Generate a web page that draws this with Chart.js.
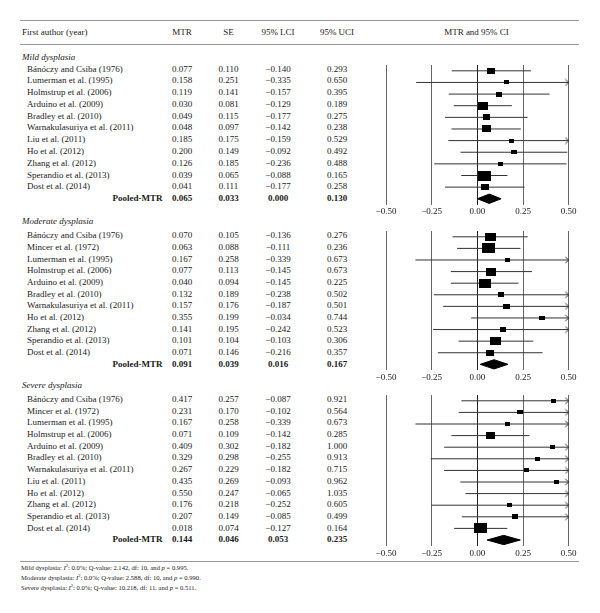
<!DOCTYPE html>
<html><head><meta charset="utf-8">
<script src="https://cdn.jsdelivr.net/npm/chart.js@4.4.1/dist/chart.umd.min.js"></script>
<style>
html,body{margin:0;padding:0;background:#fff;}
#wrap{position:relative;width:600px;height:613px;overflow:hidden;font-family:"Liberation Serif","Times New Roman",serif;color:#1a1a1a;}
.t{position:absolute;font-size:9px;line-height:12px;height:12px;white-space:nowrap;}
.c{transform:translateX(-50%);}
.b{font-weight:bold;}
.i{font-style:italic;}
.rule{position:absolute;height:0;border-top:1.4px solid #999;}
canvas{position:absolute;}
.note{position:absolute;font-size:6.6px;line-height:8px;height:8px;white-space:nowrap;left:21px;color:#222;}
.note sup{font-size:4.6px;vertical-align:3px;line-height:0;}
</style></head><body><div id="wrap"></div>
<script>
// ---------------- data ----------------
const mildAuthors = ["Bánóczy and Csiba (1976)","Lumerman et al. (1995)","Holmstrup et al. (2006)","Arduino et al. (2009)","Bradley et al. (2010)","Warnakulasuriya et al. (2011)","Liu et al. (2011)","Ho et al. (2012)","Zhang et al. (2012)","Sperandio et al. (2013)","Dost et al. (2014)"];
const mildMTR = [0.077,0.158,0.119,0.030,0.049,0.048,0.185,0.200,0.126,0.039,0.041];
const mildSE  = [0.110,0.251,0.141,0.081,0.115,0.097,0.175,0.149,0.185,0.065,0.111];
const mildLCI = [-0.140,-0.335,-0.157,-0.129,-0.177,-0.142,-0.159,-0.092,-0.236,-0.088,-0.177];
const mildUCI = [0.293,0.650,0.395,0.189,0.275,0.238,0.529,0.492,0.488,0.165,0.258];
const mildPooled = [0.065,0.033,0.000,0.130]; // MTR, SE, LCI, UCI

const modAuthors = ["Bánóczy and Csiba (1976)","Mincer et al. (1972)","Lumerman et al. (1995)","Holmstrup et al. (2006)","Arduino et al. (2009)","Bradley et al. (2010)","Warnakulasuriya et al. (2011)","Ho et al. (2012)","Zhang et al. (2012)","Sperandio et al. (2013)","Dost et al. (2014)"];
const modMTR = [0.070,0.063,0.167,0.077,0.040,0.132,0.157,0.355,0.141,0.101,0.071];
const modSE  = [0.105,0.088,0.258,0.113,0.094,0.189,0.176,0.199,0.195,0.104,0.146];
const modLCI = [-0.136,-0.111,-0.339,-0.145,-0.145,-0.238,-0.187,-0.034,-0.242,-0.103,-0.216];
const modUCI = [0.276,0.236,0.673,0.673,0.225,0.502,0.501,0.744,0.523,0.306,0.357];
// upper whisker ends as drawn in the plot (Holmstrup's drawn interval ends near 0.30)
const modUCIDrawn = [0.276,0.236,0.673,0.299,0.225,0.502,0.501,0.744,0.523,0.306,0.357];
const modPooled = [0.091,0.039,0.016,0.167];

const sevAuthors = ["Bánóczy and Csiba (1976)","Mincer et al. (1972)","Lumerman et al. (1995)","Holmstrup et al. (2006)","Arduino et al. (2009)","Bradley et al. (2010)","Warnakulasuriya et al. (2011)","Liu et al. (2011)","Ho et al. (2012)","Zhang et al. (2012)","Sperandio et al. (2013)","Dost et al. (2014)"];
const sevMTR = [0.417,0.231,0.167,0.071,0.409,0.329,0.267,0.435,0.550,0.176,0.207,0.018];
const sevSE  = [0.257,0.170,0.258,0.109,0.302,0.298,0.229,0.269,0.247,0.218,0.149,0.074];
const sevLCI = [-0.087,-0.102,-0.339,-0.142,-0.182,-0.255,-0.182,-0.093,-0.065,-0.252,-0.085,-0.127];
const sevUCI = [0.921,0.564,0.673,0.285,1.000,0.913,0.715,0.962,1.035,0.605,0.499,0.164];
const sevPooled = [0.144,0.046,0.053,0.235];

const xTicks = [-0.50,-0.25,0.00,0.25,0.50];
const headers = ["First author (year)","MTR","SE","95% LCI","95% UCI","MTR and 95% CI"];
const notes = [
  ["Mild dysplasia", "0.0%", "2.142", "10", "0.995"],
  ["Moderate dysplasia", "0.0%", "2.588", "10", "0.990"],
  ["Severe dysplasia", "0.0%", "10.218", "11", "0.511"]
];

// ---------------- layout ----------------
const wrap = document.getElementById('wrap');
const COL = {mtr:182, se:228.5, lci:278, uci:337, plot:476.5};
const AUTHOR_X = 27, LABEL_X = 22, POOLED_RIGHT = 162.5;
const PX_MIN = 386, PX_MAX = 568.7, CANVAS_LEFT = 356, CANVAS_W = 244;
const AXIS_H = 18;

function fmt(v){ return v.toFixed(3).replace('-', '\u2212'); }
function txt(s, x, y, cls, mode){
  const d = document.createElement('div');
  d.className = 't ' + (cls||'');
  d.textContent = s;
  d.style.top = (y - 6.5) + 'px';
  if (mode === 'c') { d.style.left = x + 'px'; d.classList.add('c'); }
  else if (mode === 'r') { d.style.right = (600 - x) + 'px'; }
  else d.style.left = x + 'px';
  wrap.appendChild(d);
  return d;
}
function rule(y, x0, x1){
  const d = document.createElement('div');
  d.className = 'rule';
  d.style.top = y + 'px'; d.style.left = x0 + 'px'; d.style.width = (x1 - x0) + 'px';
  wrap.appendChild(d);
}

rule(20, 20, 579);
rule(44.3, 20, 579);
rule(561, 20, 579);
txt(headers[0], 22, 32.5, '', 'l');
txt(headers[1], COL.mtr, 32.5, '', 'c');
txt(headers[2], COL.se, 32.5, '', 'c');
txt(headers[3], COL.lci, 32.5, '', 'c');
txt(headers[4], COL.uci, 32.5, '', 'c');
txt(headers[5], COL.plot, 32.5, '', 'c');

notes.forEach((n, k) => {
  const d = document.createElement('div');
  d.className = 'note';
  d.style.top = (568.3 + k*10 - 4) + 'px';
  d.innerHTML = n[0] + ': <i>I</i><sup>2</sup>: ' + n[1] + '; Q-value: ' + n[2] + ', df: ' + n[3] + ', and <i>p</i> = ' + n[4] + '.';
  wrap.appendChild(d);
});

const panels = [
  {title:'Mild dysplasia', labelY:57, firstY:69, rowH:11.79, authors:mildAuthors, mtr:mildMTR, se:mildSE, lci:mildLCI, uci:mildUCI, uciDrawn:mildUCI, pooled:mildPooled},
  {title:'Moderate dysplasia', labelY:221, firstY:235.7, rowH:11.69, authors:modAuthors, mtr:modMTR, se:modSE, lci:modLCI, uci:modUCI, uciDrawn:modUCIDrawn, pooled:modPooled},
  {title:'Severe dysplasia', labelY:385, firstY:399.3, rowH:11.72, authors:sevAuthors, mtr:sevMTR, se:sevSE, lci:sevLCI, uci:sevUCI, uciDrawn:sevUCI, pooled:sevPooled}
];

function boxCanvas(w, h){
  const c = document.createElement('canvas');
  c.width = Math.max(4, Math.round(w)); c.height = Math.max(4, Math.round(h));
  const g = c.getContext('2d'); g.fillStyle = '#000'; g.fillRect(0, 0, c.width, c.height);
  return c;
}
function arrowCanvas(){
  const c = document.createElement('canvas');
  c.width = 10; c.height = 8;
  const g = c.getContext('2d');
  g.strokeStyle = '#333'; g.lineWidth = 1;
  g.beginPath(); g.moveTo(1.5, 1); g.lineTo(5, 4); g.lineTo(1.5, 7); g.stroke();
  return c;
}
const ARROW = arrowCanvas();

panels.forEach((p, idx) => {
  const n = p.authors.length;
  txt(p.title, LABEL_X, p.labelY, 'i', 'l');
  for (let i = 0; i < n; i++) {
    const y = p.firstY + i*p.rowH;
    txt(p.authors[i], AUTHOR_X, y, '', 'l');
    txt(fmt(p.mtr[i]), COL.mtr, y, '', 'c');
    txt(fmt(p.se[i]), COL.se, y, '', 'c');
    txt(fmt(p.lci[i]), COL.lci, y, '', 'c');
    txt(fmt(p.uci[i]), COL.uci, y, '', 'c');
  }
  const yp = p.firstY + n*p.rowH;
  txt('Pooled-MTR', POOLED_RIGHT, yp, 'b', 'r');
  txt(fmt(p.pooled[0]), COL.mtr, yp, 'b', 'c');
  txt(fmt(p.pooled[1]), COL.se, yp, 'b', 'c');
  txt(fmt(p.pooled[2]), COL.lci, yp, 'b', 'c');
  txt(fmt(p.pooled[3]), COL.uci, yp, 'b', 'c');

  // chart geometry
  const top = p.firstY - p.rowH/2;
  const bottom = top + (n+1)*p.rowH;
  const cTop = Math.floor(top) - 3;
  const cH = Math.ceil(bottom - cTop + AXIS_H);
  const padTop = top - cTop;
  const padBottom = cH - AXIS_H - (bottom - cTop);
  const cv = document.createElement('canvas');
  cv.width = CANVAS_W; cv.height = cH;
  cv.style.left = CANVAS_LEFT + 'px'; cv.style.top = cTop + 'px';
  cv.style.width = CANVAS_W + 'px'; cv.style.height = cH + 'px';
  wrap.appendChild(cv);

  const seMin = Math.min.apply(null, p.se);
  const boxes = p.se.map(s => { const w = Math.max(4.5, 13*seMin/s); return boxCanvas(w, Math.max(4, w*0.77)); });

  const whisk = [];
  for (let i = 0; i < n; i++) {
    whisk.push({x:p.lci[i], y:i}, {x:p.uciDrawn[i], y:i}, {x:null, y:null});
  }
  const xMax = xTicks[xTicks.length-1];
  const arrows = [];
  for (let i = 0; i < n; i++) if (p.uciDrawn[i] > xMax - 0.005) arrows.push({x:xMax, y:i});
  const D = 0.4;
  const pl = p.pooled;
  const diamond = [{x:pl[2], y:n}, {x:pl[0], y:n-D}, {x:pl[3], y:n}, {x:pl[0], y:n+D}, {x:pl[2], y:n}];

  new Chart(cv, {
    type: 'scatter',
    data: { datasets: [
      {type:'line', data: whisk, borderColor:'#333', borderWidth:1, pointRadius:0, fill:false, tension:0, spanGaps:false, order:3},
      {type:'scatter', data: p.mtr.map((m,i)=>({x:m, y:i})), pointStyle: boxes, pointRadius:3, pointHoverRadius:3, order:1, clip:1},
      {type:'scatter', data: arrows, pointStyle: ARROW, pointRadius:3, order:2, clip:false},
      {type:'line', data: diamond, fill:'shape', backgroundColor:'#000', borderColor:'#000', borderWidth:1, pointRadius:0, tension:0, order:0}
    ]},
    options: {
      responsive:false, maintainAspectRatio:false, animation:false, devicePixelRatio:1,
      events: [],
      layout: { padding: { left: PX_MIN - CANVAS_LEFT, right: CANVAS_LEFT + CANVAS_W - PX_MAX, top: padTop, bottom: padBottom } },
      plugins: { legend:{display:false}, tooltip:{enabled:false} },
      scales: {
        x: { type:'linear', min: xTicks[0], max: xMax,
             afterBuildTicks: s => { s.ticks = xTicks.map(v => ({value:v})); },
             afterFit: s => { s.height = AXIS_H; },
             border: { display:false },
             grid: { drawTicks:false, lineWidth:1, color: c => (c.tick && c.tick.value === 0) ? '#222' : '#666' },
             ticks: { padding:2, color:'#1a1a1a', font:{family:'"Liberation Serif", serif', size:9},
                      callback: v => Number(v).toFixed(2).replace('-', '\u2212') } },
        y: { type:'linear', display:false, reverse:true, min:-0.5, max:n+0.5 }
      }
    }
  });
});
</script>
</body></html>
